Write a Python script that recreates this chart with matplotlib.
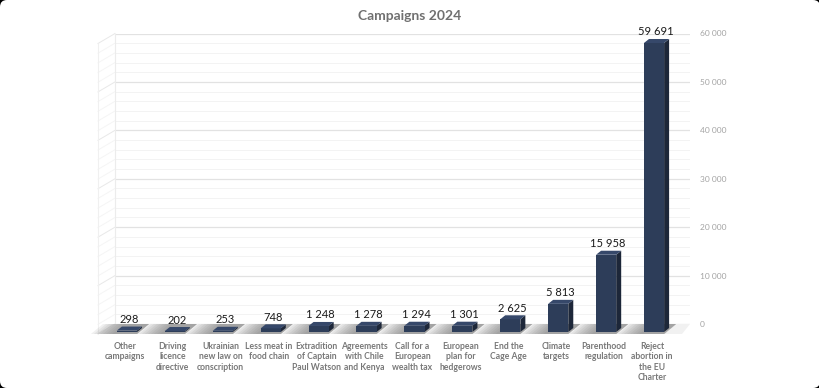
import numpy as np
import matplotlib.pyplot as plt
from matplotlib.patches import Polygon, FancyBboxPatch
from matplotlib.transforms import IdentityTransform

plt.rcParams['font.family'] = ['Lato', 'DejaVu Sans']

campaigns = ["Other\ncampaigns", "Driving\nlicence\ndirective", "Ukrainian\nnew law on\nconscription",
             "Less meat in\nfood chain", "Extradition\nof Captain\nPaul Watson", "Agreements\nwith Chile\nand Kenya",
             "Call for a\nEuropean\nwealth tax", "European\nplan for\nhedgerows", "End the\nCage Age",
             "Climate\ntargets", "Parenthood\nregulation", "Reject\nabortion in\nthe EU\nCharter"]
signatures = [298, 202, 253, 748, 1248, 1278, 1294, 1301, 2625, 5813, 15958, 59691]
major_ticks = [0, 10000, 20000, 30000, 40000, 50000, 60000]
minor_step = 2000

W, H = 820, 388
fig = plt.figure(figsize=(W / 100, H / 100), dpi=100)
fig.patch.set_facecolor('black')
card = FancyBboxPatch((0, 0), W, H, boxstyle='round,pad=0,rounding_size=7',
                      transform=IdentityTransform(), facecolor='white', edgecolor='none', zorder=-10)
fig.patches.append(card)

# front plane (bar fronts) in pixels
fl, fr, fb, ft = 103, 678, 332, 41.5
bx, by = 12, 8        # back wall offset, px
sx, sy = 5, 4         # bar depth, px
xmin, xmax, ymax = -0.5, len(signatures) - 0.5, 60000
ux = (xmax - xmin) / (fr - fl)
uy = ymax / (fb - ft)

# back wall with grid and right-hand labels
axb = fig.add_axes([(fl + bx) / W, 1 - (fb - by) / H, (fr - fl) / W, (fb - ft) / H], zorder=1)
axb.set_xlim(xmin, xmax)
axb.set_ylim(0, ymax)
axb.patch.set_alpha(0)
for s in axb.spines.values():
    s.set_visible(False)
axb.set_xticks([])
axb.set_yticks(major_ticks)
axb.set_yticks(np.arange(0, ymax + 1, minor_step), minor=True)
axb.set_yticklabels([f"{v:,}".replace(",", " ") for v in major_ticks])
axb.yaxis.tick_right()
axb.tick_params(axis='y', which='both', length=0, pad=7, labelsize=6, labelcolor='#a3a3a3')
axb.grid(which='minor', axis='y', color='#f3f3f3', lw=0.7)
axb.grid(which='major', axis='y', color='#e2e2e2', lw=0.9)
axb.set_axisbelow(True)

ax = fig.add_axes([fl / W, 1 - fb / H, (fr - fl) / W, (fb - ft) / H], zorder=2)
ax.set_xlim(xmin, xmax)
ax.set_ylim(0, ymax)
ax.patch.set_alpha(0)
for s in ax.spines.values():
    s.set_visible(False)
ax.set_yticks([])

# left wall
wx, wy = -5, -2
for v in np.arange(0, ymax + 1, minor_step):
    c = '#e8e8e8' if v % 10000 == 0 else '#f5f5f5'
    ax.plot([xmin + wx * ux, xmin + bx * ux], [v + wy * uy, v + by * uy], color=c, lw=0.7, clip_on=False, zorder=0)
ax.plot([xmin + wx * ux] * 2, [wy * uy, ymax + wy * uy], color='#f0f0f0', lw=0.8, clip_on=False, zorder=0)
ax.plot([xmin + bx * ux] * 2, [by * uy, ymax + by * uy], color='#ececec', lw=0.8, clip_on=False, zorder=0)

# floor
floor = [(xmin + wx * ux, wy * uy), (xmax + 4 * ux, wy * uy), (xmax + bx * ux, by * uy), (xmin + bx * ux, by * uy)]
ax.add_patch(Polygon(floor, closed=True, facecolor='#f1f1f1', edgecolor='none', clip_on=False, zorder=1))

x = np.arange(len(signatures))
bw = 0.42
hw = bw / 2
bars = ax.bar(x, signatures, width=bw, color='#2d3d59', zorder=4)

for xi, v in zip(x, signatures):
    # shadow on the floor, fading to the left
    for k in range(8):
        ext = (26 - k * 3) * ux
        shade = [(xi - hw - ext, wy * uy), (xi + hw, wy * uy),
                 (xi + hw + bx * ux, by * uy), (xi - hw - ext + bx * ux, by * uy)]
        ax.add_patch(Polygon(shade, closed=True, facecolor='#6f6f6f', alpha=0.1, edgecolor='none',
                             clip_on=False, zorder=2))
    side = [(xi + hw, 0), (xi + hw + sx * ux, sy * uy), (xi + hw + sx * ux, v + sy * uy), (xi + hw, v)]
    ax.add_patch(Polygon(side, closed=True, facecolor='#1d2739', edgecolor='none', clip_on=False, zorder=3))
    top = [(xi - hw, v), (xi + hw, v), (xi + hw + sx * ux, v + sy * uy), (xi - hw + sx * ux, v + sy * uy)]
    ax.add_patch(Polygon(top, closed=True, facecolor='#36486a', edgecolor='none', clip_on=False, zorder=5))
    ax.text(xi + 2 * ux, v + (sy + 1.5) * uy, f"{v:,}".replace(",", " "), ha='center', va='bottom',
            fontsize=8, color='#1a1a1a', zorder=6, clip_on=False)

ax.set_xticks(x - 2 * ux)
ax.set_xticklabels(campaigns, fontsize=6.2, color='#787878', fontweight='bold', linespacing=1.2)
ax.tick_params(axis='x', length=0, pad=7)

fig.text(0.5, 1 - 16 / H, 'Campaigns 2024', ha='center', va='center', fontsize=10,
         fontweight='bold', color='#707070')

fig.savefig('out.png', dpi=100, facecolor=fig.get_facecolor())
